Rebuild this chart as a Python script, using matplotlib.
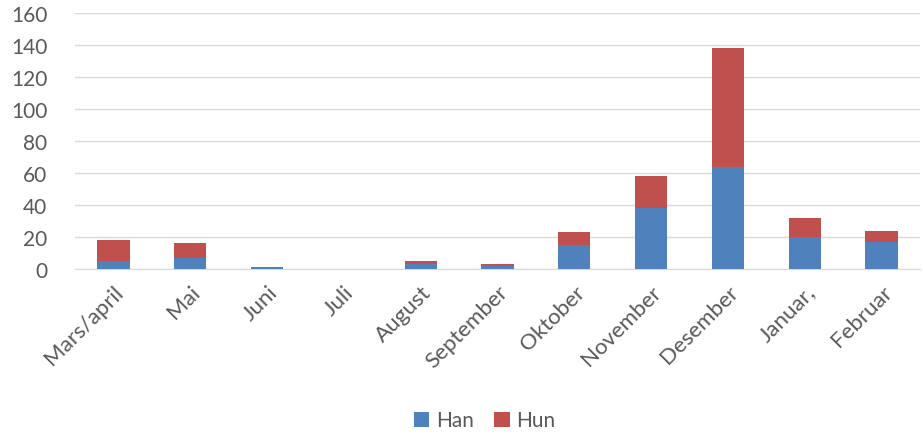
import matplotlib.pyplot as plt
import numpy as np

months = ["Mars/april", "Mai", "Juni", "Juli", "August", "September",
          "Oktober", "November", "Desember", "Januar,", "Februar"]
han = [5, 7, 1, 0, 3, 2, 15, 38, 64, 20, 17]
hun = [13, 9, 0, 0, 2, 1, 8, 20, 74, 12, 7]

plt.rcParams["font.family"] = ["Lato", "DejaVu Sans"]
text_col = "#595959"

fig = plt.figure(figsize=(9.23, 4.35), dpi=100)
ax = fig.add_axes([75 / 923, 1 - 270 / 435, 845 / 923, 256 / 435])

x = np.arange(len(months))
ax.bar(x, han, width=0.42, color="#4f81bd", label="Han", zorder=3)
ax.bar(x, hun, width=0.42, bottom=han, color="#c0504d", label="Hun", zorder=3)

ax.set_xlim(-0.5, len(months) - 0.5)
ax.set_ylim(0, 160)
ax.set_yticks(range(0, 161, 20))
ax.yaxis.grid(True, color="#d9d9d9", linewidth=1, zorder=0)
ax.set_xticks(x)
ax.set_xticklabels(months, rotation=45, ha="right", rotation_mode="anchor")
ax.tick_params(axis="both", length=0, labelsize=15, colors=text_col)
ax.tick_params(axis="x", labelsize=16, pad=9)
ax.tick_params(axis="y", pad=20)
for s in ["top", "right", "left"]:
    ax.spines[s].set_visible(False)
ax.spines["bottom"].set_color("#d9d9d9")

fig.legend(loc="lower center", bbox_to_anchor=(0.525, -0.035), ncol=2, frameon=False,
           fontsize=15, labelcolor=text_col, handlelength=0.75, handleheight=0.75,
           handletextpad=0.3, columnspacing=1.0)

fig.savefig("out.png", dpi=100)
